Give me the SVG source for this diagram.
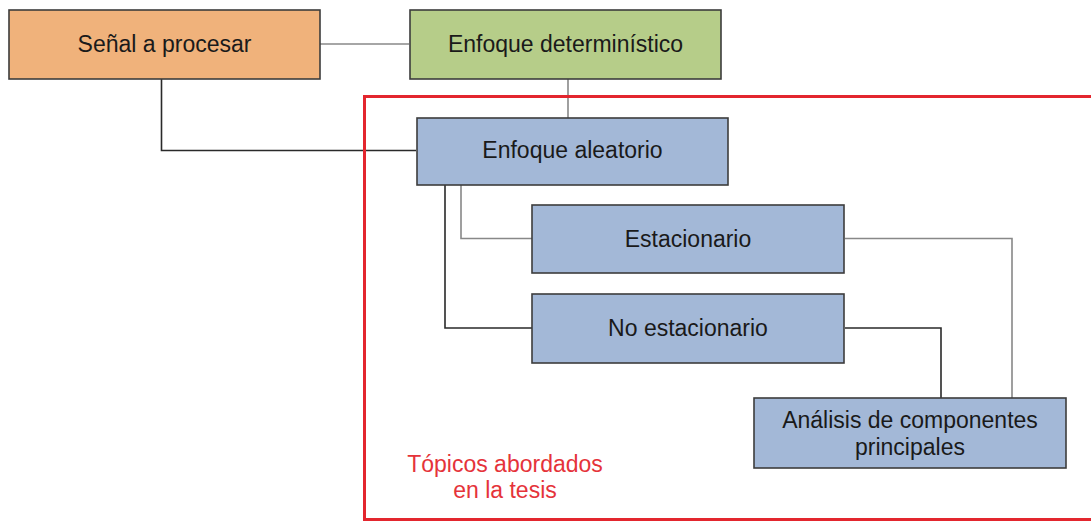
<svg xmlns="http://www.w3.org/2000/svg" width="1091" height="523" viewBox="0 0 1091 523">
<style>
.box{stroke:#3c3c3c;stroke-width:1.6}
.orange{fill:#F0B27B}
.green{fill:#B6CD89}
.blue{fill:#A3B8D7}
.t{font-family:"Liberation Sans",Arial,sans-serif;font-size:23px;fill:#1a1a1a;text-anchor:middle}
.red{font-family:"Liberation Sans",Arial,sans-serif;font-size:23px;fill:#E5333A;text-anchor:middle}
.c{fill:none;stroke-width:1.6}
.g{stroke:#888888}
.d{stroke:#2a2a2a}
</style>
<rect width="1091" height="523" fill="#ffffff"/>
<g id="connectors">
<path class="c g" d="M320 44 H409"/>
<path class="c g" d="M568 79 V118"/>
<path class="c d" d="M161.5 79 V150.5 H416"/>
<path class="c g" d="M461 185 V238.5 H532"/>
<path class="c d" d="M445 185 V328 H532"/>
<path class="c g" d="M845 238.5 H1012 V398"/>
<path class="c d" d="M845 328 H941 V398"/>
</g>
<rect id="scope" x="364.5" y="96.5" width="800" height="423" fill="none" stroke="#E3262E" stroke-width="3"/>
<g id="senal">
<rect class="box orange" x="9" y="10" width="311" height="69"/>
<text class="t" x="164.5" y="52">Señal a procesar</text>
</g>
<g id="deterministico">
<rect class="box green" x="410" y="10" width="311" height="69"/>
<text class="t" x="565.5" y="52">Enfoque determinístico</text>
</g>
<g id="aleatorio">
<rect class="box blue" x="417" y="118" width="311" height="67"/>
<text class="t" x="572.5" y="158">Enfoque aleatorio</text>
</g>
<g id="estacionario">
<rect class="box blue" x="532" y="205" width="312" height="68"/>
<text class="t" x="688" y="247">Estacionario</text>
</g>
<g id="noestacionario">
<rect class="box blue" x="532" y="294" width="312" height="69"/>
<text class="t" x="688" y="336">No estacionario</text>
</g>
<g id="analisis">
<rect class="box blue" x="754" y="398" width="312" height="70"/>
<text class="t" x="910" y="428">Análisis de componentes</text>
<text class="t" x="910" y="455">principales</text>
</g>
<g id="label">
<text class="red" x="505" y="472">Tópicos abordados</text>
<text class="red" x="505" y="498">en la tesis</text>
</g>
</svg>
